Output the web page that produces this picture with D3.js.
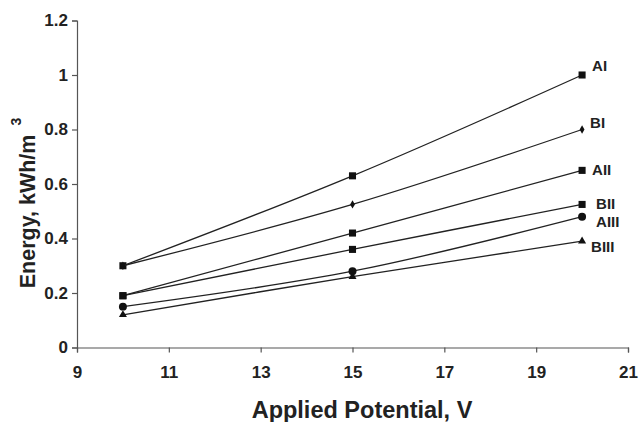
<!DOCTYPE html>
<html>
<head>
<meta charset="utf-8">
<script src="https://cdn.jsdelivr.net/npm/d3@7"></script>
<style>
  body { margin: 0; background: #fff; }
  svg { font-family: "Liberation Sans", Arial, sans-serif; }
</style>
</head>
<body>
<svg id="chart" width="640" height="422"></svg>
<script>
// --- Data ---
const voltages = [10, 15, 20];
const seriesNames = ["AI", "BI", "AII", "BII", "AIII", "BIII"];
const energyAI = [0.30, 0.63, 1.00];
const energyBI = [0.30, 0.525, 0.80];
const energyAII = [0.19, 0.42, 0.65];
const energyBII = [0.19, 0.36, 0.525];
const energyAIII = [0.15, 0.28, 0.48];
const energyBIII = [0.12, 0.26, 0.39];
const xTicks = [9, 11, 13, 15, 17, 19, 21];
const yTicks = [0, 0.2, 0.4, 0.6, 0.8, 1, 1.2];

const seriesValues = [energyAI, energyBI, energyAII, energyBII, energyAIII, energyBIII];

// marker + label placement per series
const styleMap = {
    AI:   { marker: "square",   dx: 10, dy: -4 },
    BI:   { marker: "diamond",  dx: 8,  dy: -2 },
    AII:  { marker: "square",   dx: 10, dy: 5 },
    BII:  { marker: "square",   dx: 14, dy: 5 },
    AIII: { marker: "circle",   dx: 14, dy: 10 },
    BIII: { marker: "triangle", dx: 9,  dy: 11 }
};

const margin = { top: 20.5, right: 12, bottom: 74.5, left: 77 };
const svg = d3.select("#chart");
const width = 640 - margin.left - margin.right;
const height = 422 - margin.top - margin.bottom;

const g = svg.append("g").attr("transform", `translate(${margin.left},${margin.top})`);

const x = d3.scaleLinear().domain([9, 21]).range([0, width]);
const y = d3.scaleLinear().domain([0, 1.2]).range([height, 0]);

// --- Axes ---
const xAxisG = g.append("g")
    .attr("transform", `translate(0,${height})`)
    .call(d3.axisBottom(x).tickValues(xTicks).tickSize(5).tickPadding(13).tickFormat(d3.format("d")));
const yAxisG = g.append("g")
    .call(d3.axisLeft(y).tickValues(yTicks).tickSize(5).tickPadding(4).tickFormat(d => d === 0 || d === 1 ? d3.format("d")(d) : d3.format(".1f")(d)));

[xAxisG, yAxisG].forEach(ax => {
    ax.select(".domain").attr("stroke", "#555").attr("stroke-width", 1.2);
    ax.selectAll(".tick line").attr("stroke", "#555").attr("stroke-width", 1.2);
    ax.selectAll(".tick text")
        .attr("fill", "#222")
        .attr("font-size", "17px")
        .attr("font-weight", "bold")
        .attr("font-family", "Liberation Sans, Arial, sans-serif");
});

// --- Lines ---
const line = d3.line()
    .x(d => x(d.v))
    .y(d => y(d.e))
    .curve(d3.curveCatmullRom);

const symbolMap = {
    square: { type: d3.symbolSquare, size: 50 },
    diamond: { type: d3.symbolDiamond, size: 20 },
    circle: { type: d3.symbolCircle, size: 50 },
    triangle: { type: d3.symbolTriangle, size: 28 }
};

seriesNames.forEach((name, i) => {
    const pts = voltages.map((v, j) => ({ v, e: seriesValues[i][j] }));
    const st = styleMap[name];

    g.append("path")
        .datum(pts)
        .attr("fill", "none")
        .attr("stroke", "#222")
        .attr("stroke-width", 1.3)
        .attr("d", line);

    const sym = symbolMap[st.marker];
    g.selectAll(null)
        .data(pts)
        .enter()
        .append("path")
        .attr("transform", d => `translate(${x(d.v)},${y(d.e)})`)
        .attr("fill", "#111")
        .attr("d", d3.symbol().type(sym.type).size(sym.size));

    const last = pts[pts.length - 1];
    g.append("text")
        .attr("x", x(last.v) + st.dx)
        .attr("y", y(last.e) + st.dy)
        .attr("font-size", "15px")
        .attr("font-weight", "bold")
        .attr("fill", "#222")
        .text(name);
});

// --- Axis titles ---
svg.append("text")
    .attr("x", 362)
    .attr("y", 418)
    .attr("text-anchor", "middle")
    .attr("font-size", "23.5px")
    .attr("font-weight", "bold")
    .attr("fill", "#222")
    .text("Applied Potential, V");

const yTitle = svg.append("text")
    .attr("transform", "translate(35,203) rotate(-90)")
    .attr("text-anchor", "middle")
    .attr("font-size", "21.5px")
    .attr("font-weight", "bold")
    .attr("fill", "#222");
yTitle.append("tspan").text("Energy, kWh/m");
yTitle.append("tspan")
    .attr("dx", 9)
    .attr("dy", -14)
    .attr("font-size", "14px")
    .text("3");
</script>
</body>
</html>
